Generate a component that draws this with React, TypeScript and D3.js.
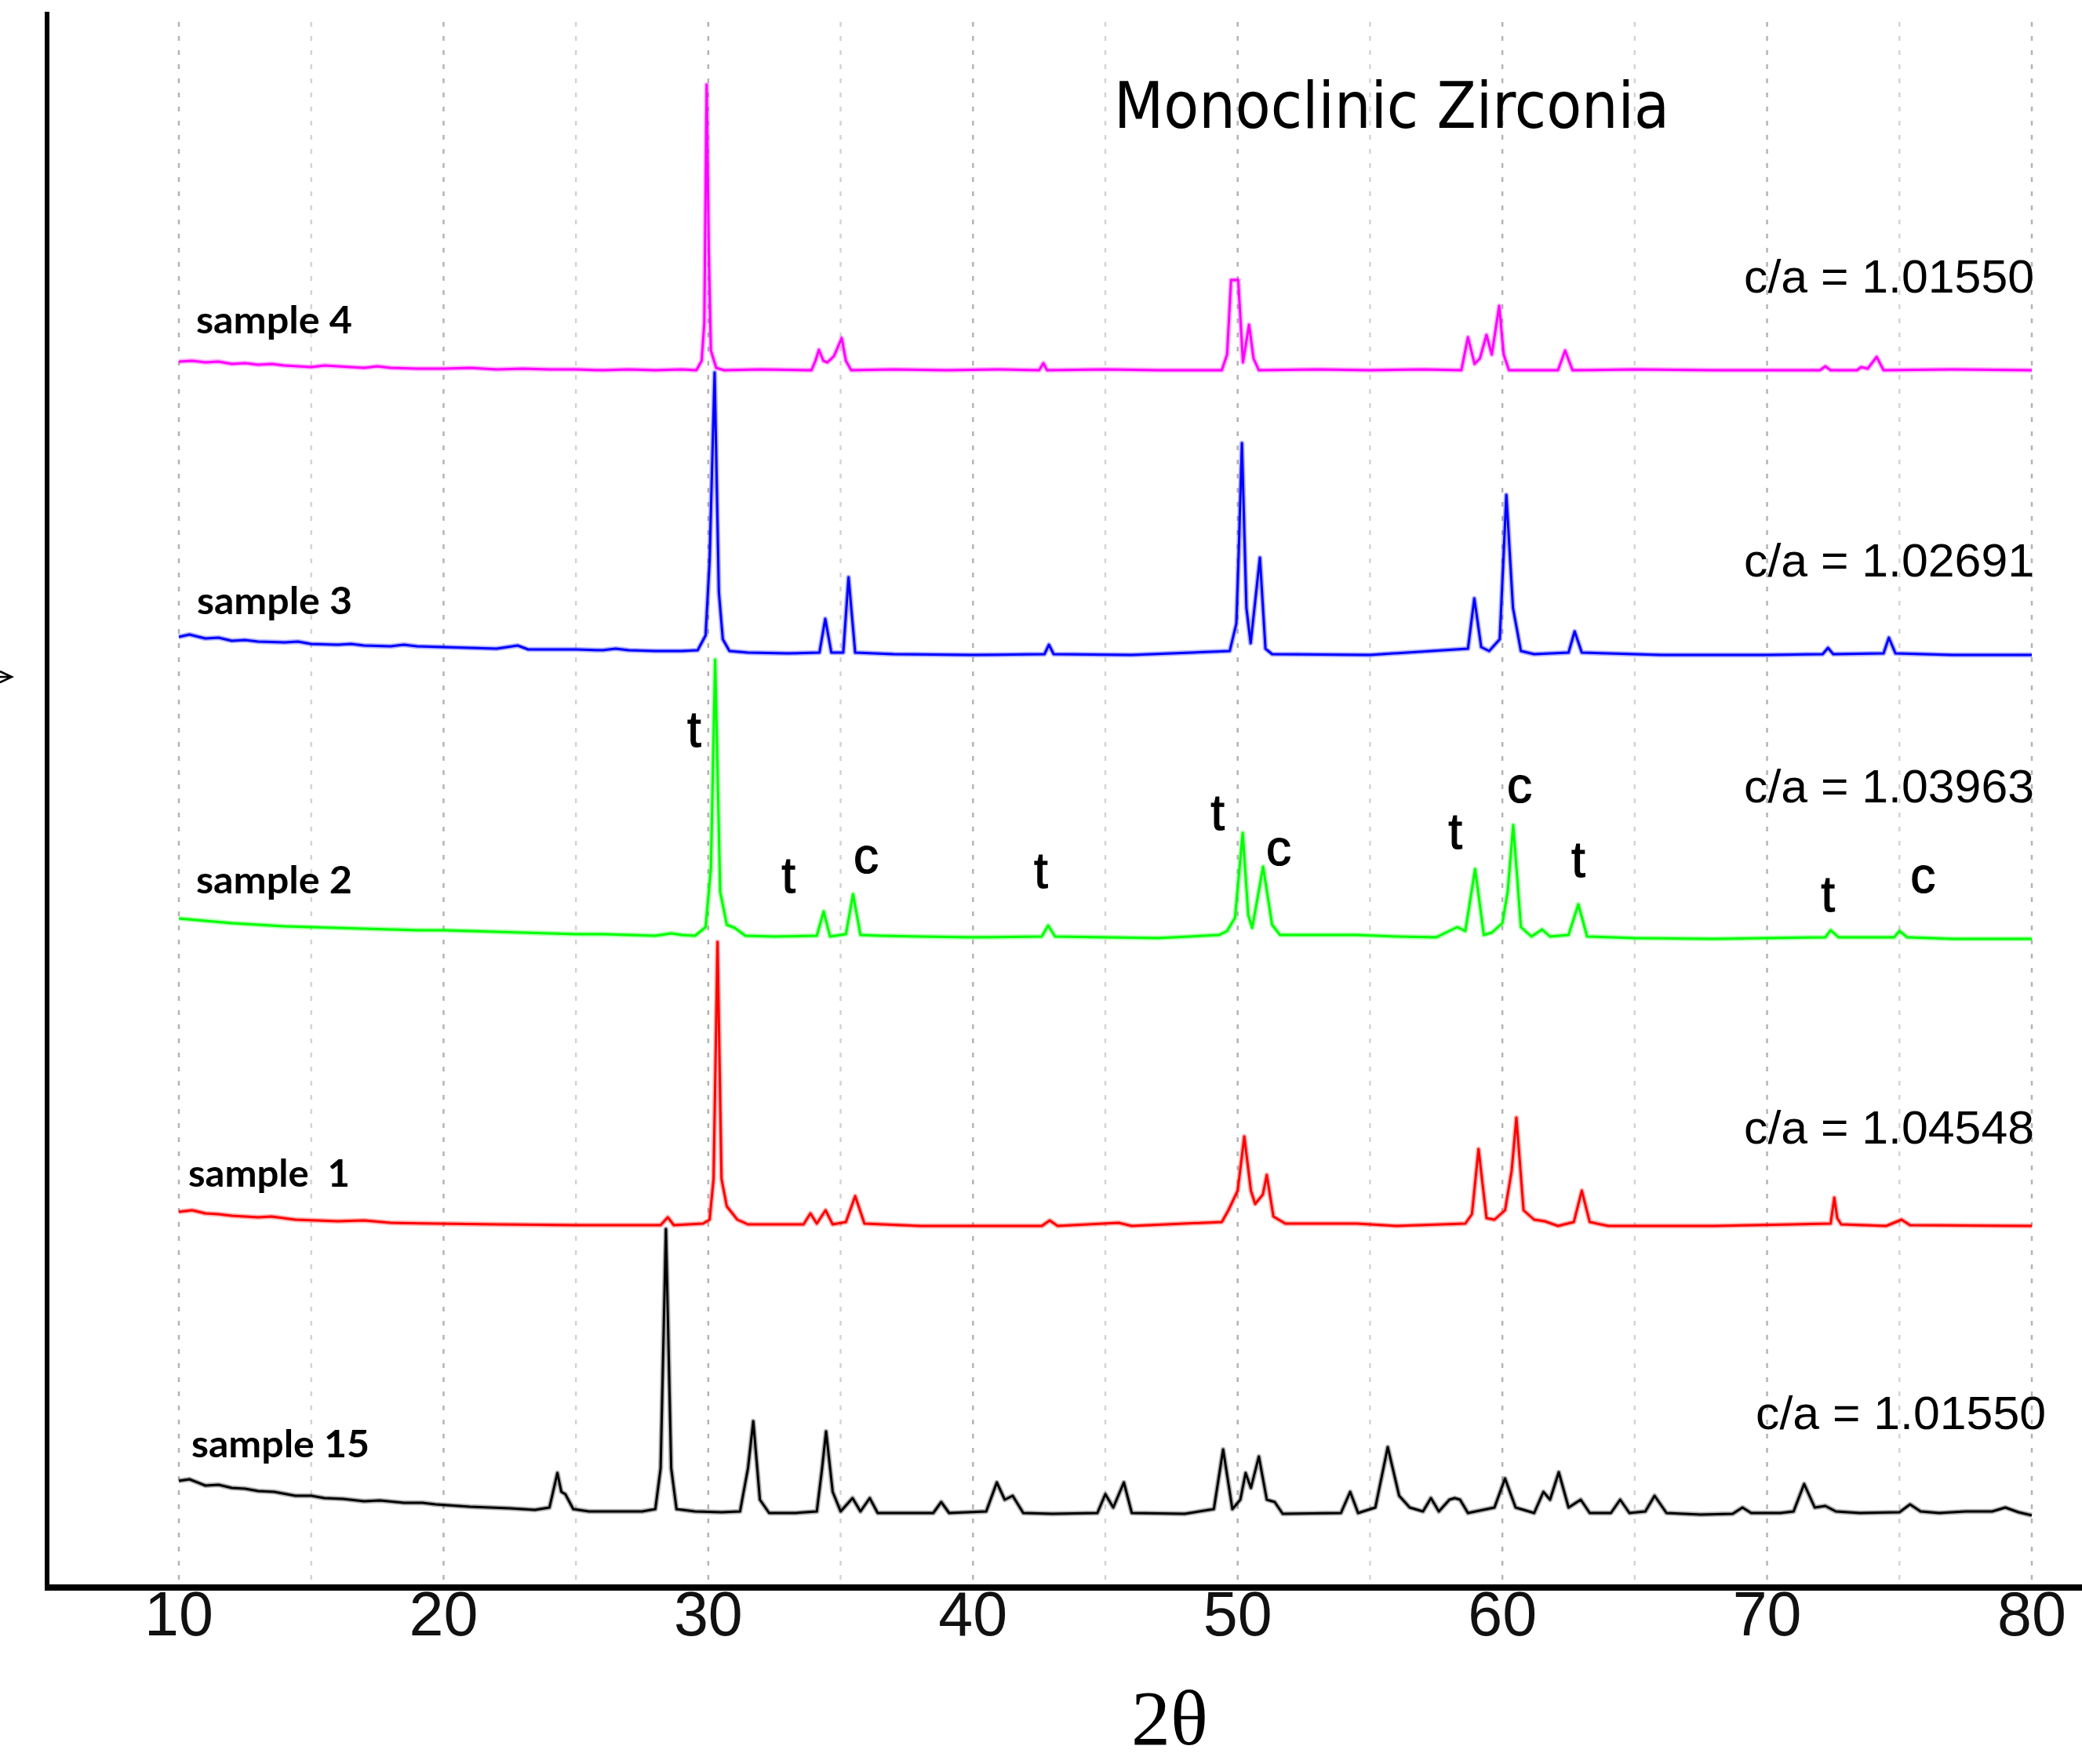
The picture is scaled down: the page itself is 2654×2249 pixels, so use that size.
import React from 'react';
import * as d3 from 'd3';

// ---------- data (2θ in degrees, intensity in a.u. above each trace's own baseline) ----------
const SAMPLE_NAMES = ['sample 4', 'sample 3', 'sample 2', 'sample  1', 'sample 15'];
const SAMPLE_COLORS = ['#ff00ff', '#0000ff', '#00ff00', '#ff0000', '#000000'];
const SAMPLE_OFFSETS = [1552, 1189, 827, 461, 92];
const CA_RATIOS = ['1.01550', '1.02691', '1.03963', '1.04548', '1.01550'];

const sample4: [number, number][] = [
  [10, 11], [10.5, 12], [11, 10], [11.5, 11], [12, 8], [12.5, 9], [13, 7], [13.5, 8], [14, 6], [15, 4], [15.5, 6], [16, 5], [17, 3], [17.5, 5], [18, 3], [19, 2], [20, 2], [21, 3],
  [22, 1], [23, 2], [24, 1], [25, 1], [26, 0], [27, 1], [28, 0], [29, 1], [29.55, 0], [29.75, 12], [29.85, 60],
  [29.94, 364], [30.02, 150], [30.1, 25], [30.3, 3], [30.6, 0], [32, 1], [33.9, 0], [34.05, 12], [34.18, 26],
  [34.35, 12], [34.5, 10], [34.75, 18], [35.04, 41], [35.2, 12], [35.4, 0], [37, 1], [39, 0], [41, 1], [42.5, 0],
  [42.66, 9], [42.8, 0], [45, 1], [47, 0], [49.4, 0], [49.6, 20], [49.75, 115], [50.02, 115], [50.2, 10],
  [50.43, 58], [50.6, 15], [50.8, 0], [53, 1], [55, 0], [57, 1], [58.45, 0], [58.7, 42], [58.95, 8], [59.15, 15],
  [59.4, 45], [59.6, 20], [59.88, 82], [60.05, 20], [60.25, 0], [62.1, 0], [62.37, 25], [62.65, 0], [65, 1],
  [68, 0], [72.0, 0], [72.2, 5], [72.4, 0], [73.4, 0], [73.55, 4], [73.8, 2], [74.14, 17], [74.4, 0], [77, 1], [80, 0],
];

const sample3: [number, number][] = [
  [10, 23], [10.4, 26], [11, 21], [11.5, 22], [12, 18], [12.5, 19], [13, 17], [14, 16], [14.5, 17], [15, 14], [16, 13], [16.5, 14], [17, 12], [18, 11], [18.5, 13], [19, 11], [20, 10],
  [21, 9], [22, 8], [22.8, 12], [23.2, 7], [24, 7], [25, 7], [26, 6], [26.5, 8], [27, 6], [28, 5], [29, 5], [29.6, 6],
  [29.9, 25], [30.05, 120], [30.24, 360], [30.4, 80], [30.55, 20], [30.8, 5], [31.5, 3], [33, 2], [34.2, 3],
  [34.42, 46], [34.65, 3], [35.1, 3], [35.3, 99], [35.55, 3], [37, 1], [40, 0], [42.7, 1], [42.87, 13], [43.05, 1],
  [46, 0], [49.7, 5], [49.95, 40], [50.05, 142], [50.16, 270], [50.33, 60], [50.49, 15], [50.84, 124], [51.05, 8],
  [51.3, 1], [55, 0], [58.7, 8], [58.94, 72], [59.2, 10], [59.5, 5], [59.9, 20], [60.15, 204], [60.4, 60],
  [60.7, 5], [61.2, 1], [62.5, 3], [62.73, 30], [63.0, 3], [66, 0], [70, 0], [72.1, 1], [72.3, 9], [72.5, 1],
  [74.4, 2], [74.6, 22], [74.85, 2], [77, 0], [80, 0],
];

const sample2: [number, number][] = [
  [10, 26], [11, 23], [12, 20], [13, 18], [14, 16], [15, 15], [16, 14], [17, 13], [18, 12], [19, 11], [20, 11],
  [21, 10], [22, 9], [23, 8], [24, 7], [25, 6], [26, 6], [27, 5], [28, 4], [28.6, 7], [29, 5], [29.5, 4],
  [29.9, 15], [30.1, 90], [30.26, 356], [30.45, 60], [30.7, 18], [31.0, 14], [31.4, 4], [32.5, 3], [34.1, 4],
  [34.36, 35], [34.6, 3], [35.2, 6], [35.47, 57], [35.75, 5], [36.5, 4], [38, 3], [40, 2], [42.6, 3], [42.84, 17],
  [43.1, 3], [45, 2], [47, 1], [49.3, 5], [49.6, 10], [49.9, 27], [50.19, 135], [50.4, 30], [50.55, 14],
  [50.96, 92], [51.3, 18], [51.6, 5], [53.5, 5], [54.5, 5], [56, 3], [57.5, 2], [58.3, 15], [58.6, 10],
  [58.97, 89], [59.3, 5], [59.6, 8], [60.0, 20], [60.2, 60], [60.41, 145], [60.7, 15], [61.1, 3], [61.5, 12],
  [61.8, 3], [62.5, 5], [62.87, 44], [63.2, 3], [65, 1], [68, 0], [72.2, 2], [72.4, 11], [72.7, 2], [74.8, 2],
  [75.0, 10], [75.3, 2], [77, 0], [80, 0],
];

const sample1: [number, number][] = [
  [10, 18], [10.5, 20], [11, 16], [11.5, 15], [12, 13], [13, 11], [13.5, 12], [14.4, 8], [16, 6], [17, 7], [18, 4], [19.7, 3], [22, 2], [25, 1], [28.2, 1],
  [28.47, 11], [28.7, 1], [29.8, 3], [30.05, 8], [30.2, 60], [30.35, 362], [30.5, 60], [30.7, 25], [31.1, 8],
  [31.5, 2], [33.6, 2], [33.86, 16], [34.1, 3], [34.43, 20], [34.7, 2], [35.2, 5], [35.55, 38], [35.9, 3],
  [38, 0], [42.6, 0], [42.9, 7], [43.2, 0], [45.5, 4], [46, 0], [49.4, 5], [49.65, 20], [50.0, 45], [50.25, 114],
  [50.5, 45], [50.66, 28], [50.95, 40], [51.1, 65], [51.35, 12], [51.8, 3], [54.5, 3], [56, 0], [58.6, 3],
  [58.85, 15], [59.1, 98], [59.4, 10], [59.7, 8], [60.1, 20], [60.35, 70], [60.53, 138], [60.8, 20], [61.2, 8],
  [61.6, 6], [62.1, 0], [62.7, 5], [63.0, 45], [63.3, 5], [64, 0], [68, 0], [72.4, 3], [72.54, 36], [72.65, 10],
  [72.8, 2], [74.5, 0], [75.08, 8], [75.4, 1], [80, 0],
];

const sample15: [number, number][] = [
  [10, 44], [10.4, 46], [11, 38], [11.5, 39], [12, 35], [12.5, 34], [13, 31], [13.6, 30], [14.4, 25], [15, 25], [15.5, 22], [16.2, 21], [17, 18], [17.6, 19], [18.5, 16], [19.2, 16], [19.7, 14], [21, 11],
  [22.5, 9], [23.45, 7], [24.0, 10], [24.3, 54], [24.45, 30], [24.6, 27], [24.9, 8], [25.5, 5], [26.5, 5],
  [27.5, 5], [28.0, 8], [28.2, 60], [28.4, 365], [28.6, 60], [28.8, 8], [29.5, 5], [30.5, 4], [31.2, 5],
  [31.5, 60], [31.7, 120], [31.95, 20], [32.3, 3], [33.3, 3], [34.1, 5], [34.3, 60], [34.45, 107], [34.7, 30],
  [35.0, 5], [35.45, 22], [35.75, 5], [36.1, 22], [36.4, 3], [37.5, 3], [38.5, 3], [38.8, 17], [39.1, 3],
  [40.5, 5], [40.9, 42], [41.2, 20], [41.5, 25], [41.9, 3], [43, 2], [44.7, 3], [45.0, 27], [45.3, 10],
  [45.7, 42], [46.0, 3], [48, 2], [49.1, 8], [49.45, 84], [49.8, 8], [50.1, 20], [50.3, 54], [50.5, 35],
  [50.8, 75], [51.1, 20], [51.4, 17], [51.7, 2], [53.9, 3], [54.25, 30], [54.55, 3], [55.2, 10], [55.67, 87],
  [56.1, 25], [56.5, 10], [57.0, 5], [57.3, 22], [57.6, 5], [58.0, 20], [58.2, 22], [58.4, 20], [58.7, 3],
  [59.7, 10], [60.1, 47], [60.5, 10], [61.2, 3], [61.55, 30], [61.8, 20], [62.13, 55], [62.5, 10], [62.96, 20],
  [63.3, 3], [64.1, 3], [64.45, 20], [64.8, 3], [65.4, 5], [65.75, 25], [66.2, 3], [67.5, 1], [68.7, 2],
  [69.07, 10], [69.4, 3], [70.5, 3], [71.0, 5], [71.4, 40], [71.8, 10], [72.2, 12], [72.6, 5], [73.5, 3],
  [75.0, 4], [75.4, 14], [75.8, 5], [76.5, 3], [77.5, 5], [78.5, 5], [79.0, 10], [79.5, 4], [80, 0],
];

const SERIES = [sample4, sample3, sample2, sample1, sample15];

// phase markers on sample 2 (t = tetragonal, c = cubic)
const PHASE_TEXT = ['t', 't', 'c', 't', 't', 'c', 't', 'c', 't', 't', 'c'];
const PHASE_THETA = [29.47, 33.03, 35.96, 42.57, 49.24, 51.55, 58.22, 60.65, 62.87, 72.3, 75.89];
const PHASE_LEVEL = [1072, 886, 911, 892, 966, 921, 942, 1001, 906, 862, 886];

const X_TICKS = [10, 20, 30, 40, 50, 60, 70, 80];
const GRID_TICKS = d3.range(10, 81, 5);

// ---------- layout ----------
const W = 2654;
const H = 2249;
const AXIS_Y = 2024;
const AXIS_X = 60;

const SAMPLE_LABEL_POS = [
  { x: 250, y: 425, w: 199 },
  { x: 251, y: 783, w: 198 },
  { x: 250, y: 1139, w: 199 },
  { x: 240, y: 1513, w: 206 },
  { x: 244, y: 1858, w: 227 },
];
const CA_POS = [
  { x: 2223, y: 373 },
  { x: 2223, y: 735 },
  { x: 2223, y: 1023 },
  { x: 2223, y: 1458 },
  { x: 2238, y: 1822 },
];

export default function App() {
  const x = d3.scaleLinear().domain([10, 80]).range([228, 2590]);
  const y = d3.scaleLinear().domain([0, 2024]).range([AXIS_Y, 0]);

  const paths = SERIES.map((s, i) =>
    d3
      .line<[number, number]>()
      .x((d) => x(d[0]))
      .y((d) => y(d[1] + SAMPLE_OFFSETS[i]))
      .curve(d3.curveLinear)(s) as string
  );

  return (
    <svg
      width={W}
      height={H}
      viewBox={`0 0 ${W} ${H}`}
      style={{ position: 'absolute', left: 0, top: 0, display: 'block', background: '#fff' }}
    >
      <rect x={0} y={0} width={W} height={H} fill="#fff" />

      {/* vertical dashed grid */}
      {GRID_TICKS.map((t) => (
        <line
          key={`g${t}`}
          x1={x(t)}
          x2={x(t)}
          y1={28}
          y2={AXIS_Y - 4}
          stroke={t % 10 === 0 ? '#b4b4b4' : '#d4d4d4'}
          strokeWidth={2.5}
          strokeDasharray="6 12"
        />
      ))}

      {/* traces: soft halo + core line */}
      {paths.map((p, i) => (
        <path key={`h${i}`} d={p} fill="none" stroke={SAMPLE_COLORS[i]} strokeOpacity={0.3} strokeWidth={6.5} strokeLinejoin="round" />
      ))}
      {paths.map((p, i) => (
        <path key={`p${i}`} d={p} fill="none" stroke={SAMPLE_COLORS[i]} strokeWidth={3} strokeLinejoin="round" />
      ))}

      {/* axes */}
      <line x1={AXIS_X} x2={AXIS_X} y1={15} y2={AXIS_Y + 4} stroke="#000" strokeWidth={6} />
      <line x1={AXIS_X - 3} x2={W} y1={AXIS_Y} y2={AXIS_Y} stroke="#000" strokeWidth={8} />

      {/* arrow tip at left edge */}
      <path d="M0,856 L15,863 L0,870 M0,863 L14,863" fill="none" stroke="#000" strokeWidth={2.5} />

      {/* x tick labels */}
      {X_TICKS.map((t) => (
        <text
          key={`t${t}`}
          x={x(t)}
          y={2085}
          textAnchor="middle"
          fontFamily="'Liberation Sans', Arial, sans-serif"
          fontSize={79}
          fill="#111"
        >
          {t}
        </text>
      ))}

      {/* x axis title */}
      <text
        x={1491}
        y={2224}
        textAnchor="middle"
        fontFamily="'Liberation Serif', 'Times New Roman', serif"
        fontSize={100}
        fill="#000"
      >
        2θ
      </text>

      {/* title */}
      <text
        x={1420}
        y={163}
        fontFamily="'DejaVu Sans', sans-serif"
        fontSize={82}
        textLength={708}
        lengthAdjust="spacingAndGlyphs"
        fill="#000"
      >
        Monoclinic Zirconia
      </text>

      {/* sample labels */}
      {SAMPLE_NAMES.map((n, i) => (
        <text
          key={`s${i}`}
          x={SAMPLE_LABEL_POS[i].x}
          y={SAMPLE_LABEL_POS[i].y}
          fontFamily="Lato, 'Open Sans', sans-serif"
          fontWeight={700}
          fontSize={48}
          textLength={SAMPLE_LABEL_POS[i].w}
          lengthAdjust="spacingAndGlyphs"
          style={{ whiteSpace: 'pre' }}
          fill="#000"
        >
          {n}
        </text>
      ))}

      {/* c/a labels */}
      {CA_RATIOS.map((r, i) => (
        <text
          key={`c${i}`}
          x={CA_POS[i].x}
          y={CA_POS[i].y}
          fontFamily="'Liberation Sans', Arial, sans-serif"
          fontSize={60}
          textLength={370}
          lengthAdjust="spacingAndGlyphs"
          fill="#000"
        >
          {`c/a = ${r}`}
        </text>
      ))}

      {/* phase markers */}
      {PHASE_TEXT.map((t, i) => (
        <text
          key={`ph${i}`}
          x={x(PHASE_THETA[i])}
          y={y(PHASE_LEVEL[i])}
          textAnchor="middle"
          fontFamily="'Liberation Sans', Arial, sans-serif"
          fontSize={64}
          fill="#000"
          stroke="#000"
          strokeWidth={1.2}
        >
          {t}
        </text>
      ))}
    </svg>
  );
}
